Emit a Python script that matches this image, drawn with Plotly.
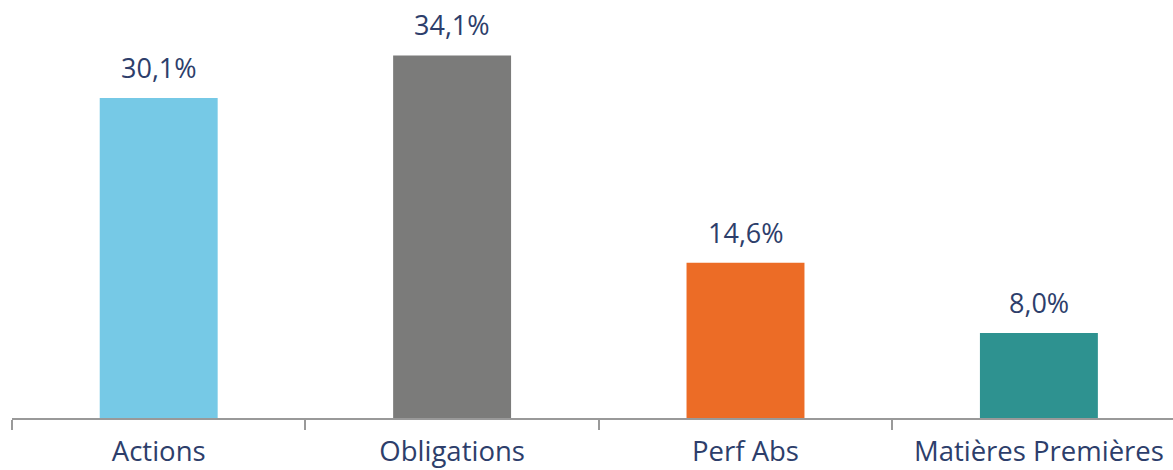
import plotly.graph_objects as go

categories = ["Actions", "Obligations", "Perf Abs", "Matières Premières"]
values = [30.1, 34.1, 14.6, 8.0]
labels = ["30,1%", "34,1%", "14,6%", "8,0%"]
colors = ["#76C9E6", "#7B7B7A", "#EC6C26", "#2E9290"]

fig = go.Figure()
fig.add_trace(go.Bar(
    x=categories, y=values, marker=dict(color=colors, line=dict(width=0)),
    width=0.402, showlegend=False, hoverinfo="skip",
))
for c, v, t in zip(categories, values, labels):
    fig.add_annotation(x=c, y=v, text=t, showarrow=False, yanchor="bottom",
                       yshift=10, font=dict(family="Open Sans", size=27, color="#2D3E6B"))

fig.update_layout(
    width=1173, height=470,
    margin=dict(l=12, r=0, t=0, b=52),
    paper_bgcolor="white", plot_bgcolor="white",
    xaxis=dict(
        range=[-0.5, -0.5 + (1173 - 12) / 293.4],
        automargin=False,
        showline=True, linecolor="#999999", linewidth=2,
        ticks="outside", tickson="boundaries", ticklen=10, tickcolor="#999999", tickwidth=2,
        tickfont=dict(family="Open Sans", size=27.5, color="#2D3E6B"),
        ticklabelstandoff=8,
        showgrid=False, zeroline=False,
    ),
    yaxis=dict(range=[0, 39.31], visible=False, showgrid=False, zeroline=False),
)
fig.write_html("out.html")
